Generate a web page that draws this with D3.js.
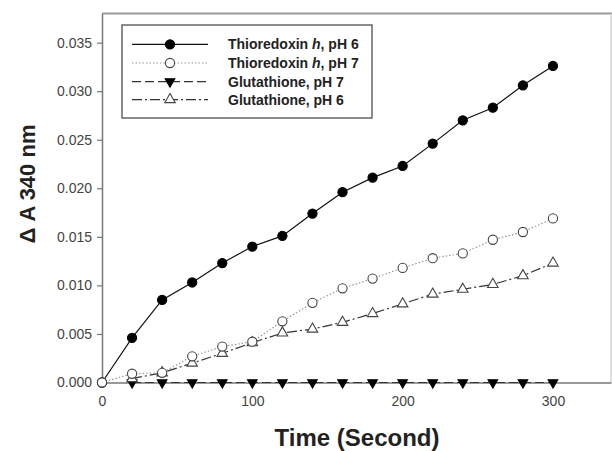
<!DOCTYPE html>
<html>
<head>
<meta charset="utf-8">
<script src="https://cdn.jsdelivr.net/npm/d3@7"></script>
<style>
html,body{margin:0;padding:0;background:#fff;}
svg{display:block;font-family:Arial,"Liberation Sans",Helvetica,sans-serif;}
</style>
</head>
<body>
<svg id="chart" width="612" height="451"></svg>
<script>
const time = [0,20,40,60,80,100,120,140,160,180,200,220,240,260,280,300];
const trxPH6 = [0,0.0046,0.0085,0.0103,0.0123,0.0140,0.0151,0.0174,0.0196,0.0211,0.0223,0.0246,0.0270,0.0283,0.0306,0.0326];
const trxPH7 = [0,0.0009,0.0010,0.0027,0.0037,0.0042,0.0063,0.0082,0.0097,0.0107,0.0118,0.0128,0.0133,0.0147,0.0155,0.0169];
const gshTime = [20,40,60,80,100,120,140,160,180,200,220,240,260,280,300];
const gshPH7 = [0,0,0,0,0,0,0,0,0,0,0,0,0,0,0];
const gshPH6 = [0.0004,0.0010,0.0020,0.0030,0.0041,0.0051,0.0055,0.0062,0.0071,0.0081,0.0091,0.0096,0.0101,0.0110,0.0123];
const xTicks = [0,100,200,300];
const yTicks = [0,0.005,0.010,0.015,0.020,0.025,0.030,0.035];
const legendLabels = [["Thioredoxin ","h",", pH 6"],["Thioredoxin ","h",", pH 7"],["Glutathione, pH 7"],["Glutathione, pH 6"]];

const svg = d3.select("#chart");
const x = d3.scaleLinear().domain([0,338.6]).range([102,611]);
const y = d3.scaleLinear().domain([0,0.038]).range([382.5,13.5]);

// frame top/right
svg.append("line").attr("x1",102).attr("x2",612).attr("y1",13.5).attr("y2",13.5).attr("stroke","#999").attr("stroke-width",2);
svg.append("line").attr("x1",611).attr("x2",611).attr("y1",13.5).attr("y2",382.5).attr("stroke","#ccc").attr("stroke-width",1.2);

// y axis
const yAxis = svg.append("g").attr("transform","translate(102,0)")
  .call(d3.axisLeft(y).tickValues(yTicks).tickFormat(d3.format(".3f")).tickSize(5).tickSizeOuter(0));
yAxis.select(".domain").attr("stroke","#777").attr("stroke-width",1.5);
yAxis.selectAll(".tick line").attr("stroke","#777").attr("stroke-width",1.2);
yAxis.selectAll(".tick text").attr("font-size",14).attr("fill","#444").attr("x",-10)
  .attr("font-family","Arial, 'Liberation Sans', sans-serif");

// x axis
const xAxis = svg.append("g").attr("transform","translate(0,382.5)")
  .call(d3.axisBottom(x).tickValues(xTicks).tickFormat(d3.format("d")).tickSize(0).tickSizeOuter(0));
xAxis.select(".domain").attr("stroke","#777").attr("stroke-width",1.5);
xAxis.selectAll(".tick text").attr("font-size",14).attr("fill","#444").attr("y",14)
  .attr("font-family","Arial, 'Liberation Sans', sans-serif");

// titles
svg.append("text").attr("x",357).attr("y",446).attr("text-anchor","middle")
  .attr("font-size",24).attr("font-weight","bold").attr("fill","#222").text("Time (Second)");
svg.append("text").attr("transform","translate(35,184) rotate(-90)").attr("text-anchor","middle")
  .attr("font-size",22).attr("font-weight","bold").attr("fill","#222").text("Δ A 340 nm");

const styles = [
  {xs:time, ys:trxPH6, stroke:"#111", dash:null, sym:"circle", fill:"#000"},
  {xs:time, ys:trxPH7, stroke:"#999", dash:"1.5,2", sym:"circle", fill:"#fff"},
  {xs:gshTime, ys:gshPH7, stroke:"#333", dash:"9,4", sym:"down", fill:"#000"},
  {xs:gshTime, ys:gshPH6, stroke:"#333", dash:"10,3,2,3", sym:"up", fill:"#fff"}
];

function drawMarker(g, s, cx, cy){
  if(s.sym==="circle"){
    g.append("circle").attr("cx",cx).attr("cy",cy).attr("r",4.6)
      .attr("fill",s.fill).attr("stroke",s.fill==="#000"?"#000":"#444").attr("stroke-width",1.1);
  } else {
    const p = d3.symbol().type(d3.symbolTriangle).size(s.sym==="down"?40:48)();
    g.append("path").attr("d",p)
      .attr("transform",`translate(${cx},${cy})${s.sym==="down"?" rotate(180)":""}`)
      .attr("fill",s.fill).attr("stroke",s.fill==="#000"?"#000":"#444").attr("stroke-width",1.1);
  }
}

const line = d3.line();
const drawOrder = [2,3,0,1];
drawOrder.forEach(i=>{
  const s = styles[i];
  const pts = s.xs.map((t,k)=>[x(t), y(s.ys[k])]);
  svg.append("path").attr("d",line(pts)).attr("fill","none").attr("stroke",s.stroke)
    .attr("stroke-width",1.2).attr("stroke-dasharray",s.dash);
});
drawOrder.forEach(i=>{
  const s = styles[i];
  const g = svg.append("g");
  s.xs.forEach((t,k)=>drawMarker(g,s,x(t),y(s.ys[k])));
});

// legend
const lg = svg.append("g");
lg.append("rect").attr("x",122).attr("y",25).attr("width",250).attr("height",93)
  .attr("fill","#fff").attr("stroke","#666").attr("stroke-width",1.5);
const rowY = [44.3,63,81.6,99.6];
styles.forEach((s,i)=>{
  lg.append("line").attr("x1",132).attr("x2",208).attr("y1",rowY[i]).attr("y2",rowY[i])
    .attr("stroke",s.stroke).attr("stroke-width",1.2).attr("stroke-dasharray",s.dash);
  drawMarker(lg,s,170,rowY[i]);
  const t = lg.append("text").attr("x",228).attr("y",rowY[i]+5).attr("font-size",14)
    .attr("font-weight","bold").attr("fill","#222");
  legendLabels[i].forEach((part,j)=>{
    const ts = t.append("tspan").text(part);
    if(legendLabels[i].length===3 && j===1) ts.attr("font-style","italic");
  });
});
</script>
</body>
</html>
